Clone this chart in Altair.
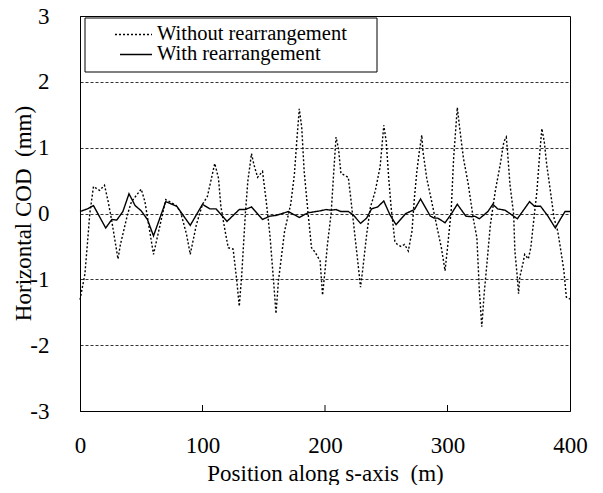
import altair as alt
import pandas as pd

# Without rearrangement (dotted)
s_without = [0, 4, 6, 8, 11, 16, 20, 23, 26, 31, 33, 39, 42, 50, 53, 60, 70, 78, 82, 87,
             90, 95, 100, 104, 110, 113, 115, 118, 121, 125, 128, 130, 132, 135, 137, 140,
             142, 145, 149, 152, 155, 158, 160, 162, 167, 172, 175, 177, 179, 181, 183, 186,
             189, 192, 196, 198, 200, 202, 205, 207, 209, 211, 213, 216, 219, 221, 224, 227,
             229, 231, 234, 237, 241, 245, 248, 250, 252, 254, 257, 259, 262, 265, 268, 271,
             273, 275, 277, 279, 280, 283, 287, 291, 295, 298, 300, 303, 305, 308, 310, 313,
             317, 321, 324, 325, 326, 328, 330, 332, 335, 339, 343, 346, 348, 349, 351, 354,
             355, 357, 358, 359, 362, 363, 366, 368, 370, 373, 375, 377, 379, 381, 384, 387,
             390, 393, 395, 397, 400]
cod_without = [-1.31, -0.92, -0.47, 0.0, 0.41, 0.35, 0.43, 0.18, -0.12, -0.69, -0.47, 0.0, 0.18,
               0.37, 0.18, -0.62, 0.21, 0.13, 0.03, -0.32, -0.62, -0.17, 0.14, 0.26, 0.76, 0.54,
               0.11, -0.22, -0.52, -0.54, -1.02, -1.41, -0.94, 0.0, 0.49, 0.91, 0.74, 0.55, 0.64,
               0.19, -0.32, -1.02, -1.52, -1.02, -0.27, 0.14, 0.59, 1.11, 1.59, 1.31, 0.64, 0.04,
               -0.52, -0.59, -0.72, -1.24, -0.87, -0.47, 0.0, 0.59, 1.16, 0.99, 0.61, 0.58, 0.55,
               0.24, -0.27, -0.77, -1.12, -0.82, -0.32, 0.09, 0.34, 0.71, 1.34, 1.09, 0.54, 0.09,
               -0.42, -0.47, -0.5, -0.47, -0.57, -0.27, 0.24, 0.64, 0.94, 1.19, 0.94, 0.54, 0.19,
               -0.17, -0.52, -0.87, -0.52, 0.04, 0.84, 1.61, 1.29, 0.84, 0.44, -0.07, -0.37,
               -0.77, -1.17, -1.72, -1.2, -0.8, -0.17, 0.34, 0.74, 1.09, 1.16, 0.94, 0.44, -0.01,
               -0.57, -0.97, -1.22, -0.97, -0.72, -0.62, -0.69, -0.52, -0.17, 0.34, 0.84, 1.29,
               1.09, 0.74, 0.34, -0.07, -0.27, -0.62, -0.87, -1.27, -1.3]

# With rearrangement (solid)
s_with = [0, 6, 11, 21, 26, 30, 35, 40, 45, 50, 55, 60, 70, 79, 90, 100, 106, 111, 120, 130,
          135, 140, 149, 155, 160, 170, 179, 186, 196, 201, 205, 209, 213, 219, 223, 229, 234,
          238, 243, 248, 253, 258, 266, 273, 278, 286, 289, 292, 298, 303, 308, 315, 320, 322,
          326, 333, 337, 341, 347, 357, 367, 371, 376, 382, 388, 392, 396, 400]
cod_with = [0.03, 0.07, 0.12, -0.22, -0.09, -0.1, 0.03, 0.3, 0.12, 0.04, -0.09, -0.34, 0.18,
            0.11, -0.18, 0.14, 0.07, 0.07, -0.12, 0.06, 0.06, 0.1, -0.09, -0.04, -0.03, 0.03,
            -0.06, 0.01, 0.04, 0.06, 0.05, 0.06, 0.03, 0.03, -0.02, -0.15, -0.07, 0.07, 0.1,
            0.19, -0.02, -0.17, 0.0, 0.06, 0.22, -0.04, -0.07, -0.07, -0.14, -0.01, 0.14, -0.04,
            -0.05, -0.04, -0.08, 0.03, 0.14, 0.07, 0.05, -0.08, 0.18, 0.11, 0.11, -0.04, -0.22,
            -0.09, 0.03, 0.03]

series_names = ["Without rearrangement", "With rearrangement"]
x_ticks = [0, 100, 200, 300, 400]
inner_ticks = [100, 200, 300]
y_ticks = [-3, -2, -1, 0, 1, 2, 3]

df = pd.concat([
    pd.DataFrame({"s": s_without, "cod": cod_without, "series": series_names[0]}),
    pd.DataFrame({"s": s_with, "cod": cod_with, "series": series_names[1]}),
])
ticks_df = pd.DataFrame({"s": inner_ticks})
box_df = pd.DataFrame({"k": [0]})

FONT = "Liberation Serif"
NB = "\u00a0"
W, H = 490, 395
DASH_DOT = [2, 2]
DASH_SOLID = [1, 0]
LW = 1.4

x_scale = alt.Scale(domain=[0, 400], nice=False, zero=False)
y_scale = alt.Scale(domain=[-3, 3], nice=False)

x_axis = alt.Axis(values=x_ticks, title=f"Position along s-axis{NB}{NB}(m)", grid=False,
                  tickSize=0, labelPadding=23, titleY=69, titleBaseline="alphabetic",
                  labelFlush=False)

# legend box (decoration)
legend_box = alt.Chart(box_df).mark_rect(fill="white", stroke="black", strokeWidth=1).encode(
    x=alt.value(5), x2=alt.value(297), y=alt.value(2), y2=alt.value(56),
)

# legend entries (decoration)
legend_layers = []
entry_specs = [(series_names[0], DASH_DOT, 35, 18.5), (series_names[1], DASH_SOLID, 40, 38.5)]
for name, dash, x_start, y_mid in entry_specs:
    ent_df = pd.DataFrame({"series": [name]})
    legend_layers.append(
        alt.Chart(ent_df).mark_rule(color="black", strokeWidth=LW, strokeDash=dash).encode(
            x=alt.value(x_start), x2=alt.value(72), y=alt.value(y_mid)
        )
    )
    legend_layers.append(
        alt.Chart(ent_df).mark_text(font=FONT, fontSize=20.5, color="black", align="left",
                                    baseline="alphabetic").encode(
            x=alt.value(77), y=alt.value(y_mid + 5), text="series:N"
        )
    )

lines = alt.Chart(df).mark_line(color="black", strokeWidth=LW).encode(
    x=alt.X("s:Q", scale=x_scale, axis=x_axis),
    y=alt.Y("cod:Q", scale=y_scale,
            axis=alt.Axis(values=y_ticks, title=f"Horizontal COD{NB}{NB}(mm)", grid=True,
                          gridDash=[3, 2], gridColor="black", gridWidth=0.8, gridOpacity=1,
                          tickSize=0, labelPadding=31, titleX=-50, titleY=197,
                          titleBaseline="alphabetic", labelFlush=False,
                          labelExpr="(datum.value < 0 ? '-' : '') + abs(datum.value)")),
    strokeDash=alt.StrokeDash(
        "series:N",
        scale=alt.Scale(domain=series_names, range=[DASH_DOT, DASH_SOLID]),
        legend=None,
    ),
)

tick_marks = alt.Chart(ticks_df).mark_rule(color="black", strokeWidth=1).encode(
    x=alt.X("s:Q", scale=x_scale, axis=x_axis),
    y=alt.value(H),
    y2=alt.value(H - 6),
)

chart = alt.layer(lines, tick_marks, legend_box, *legend_layers).properties(
    width=W, height=H,
    autosize=alt.AutoSizeParams(type="none"),
    padding={"left": 72, "top": 8, "right": 25, "bottom": 74},
).configure_view(
    stroke="black", strokeWidth=1
).configure_axis(
    domainColor="black", domainWidth=1, labelColor="black", titleColor="black",
    labelFont=FONT, titleFont=FONT, labelFontSize=23, titleFontSize=23,
    titleFontWeight="normal",
)

chart.save("out.html", embed_options={"renderer": "svg", "actions": False})
